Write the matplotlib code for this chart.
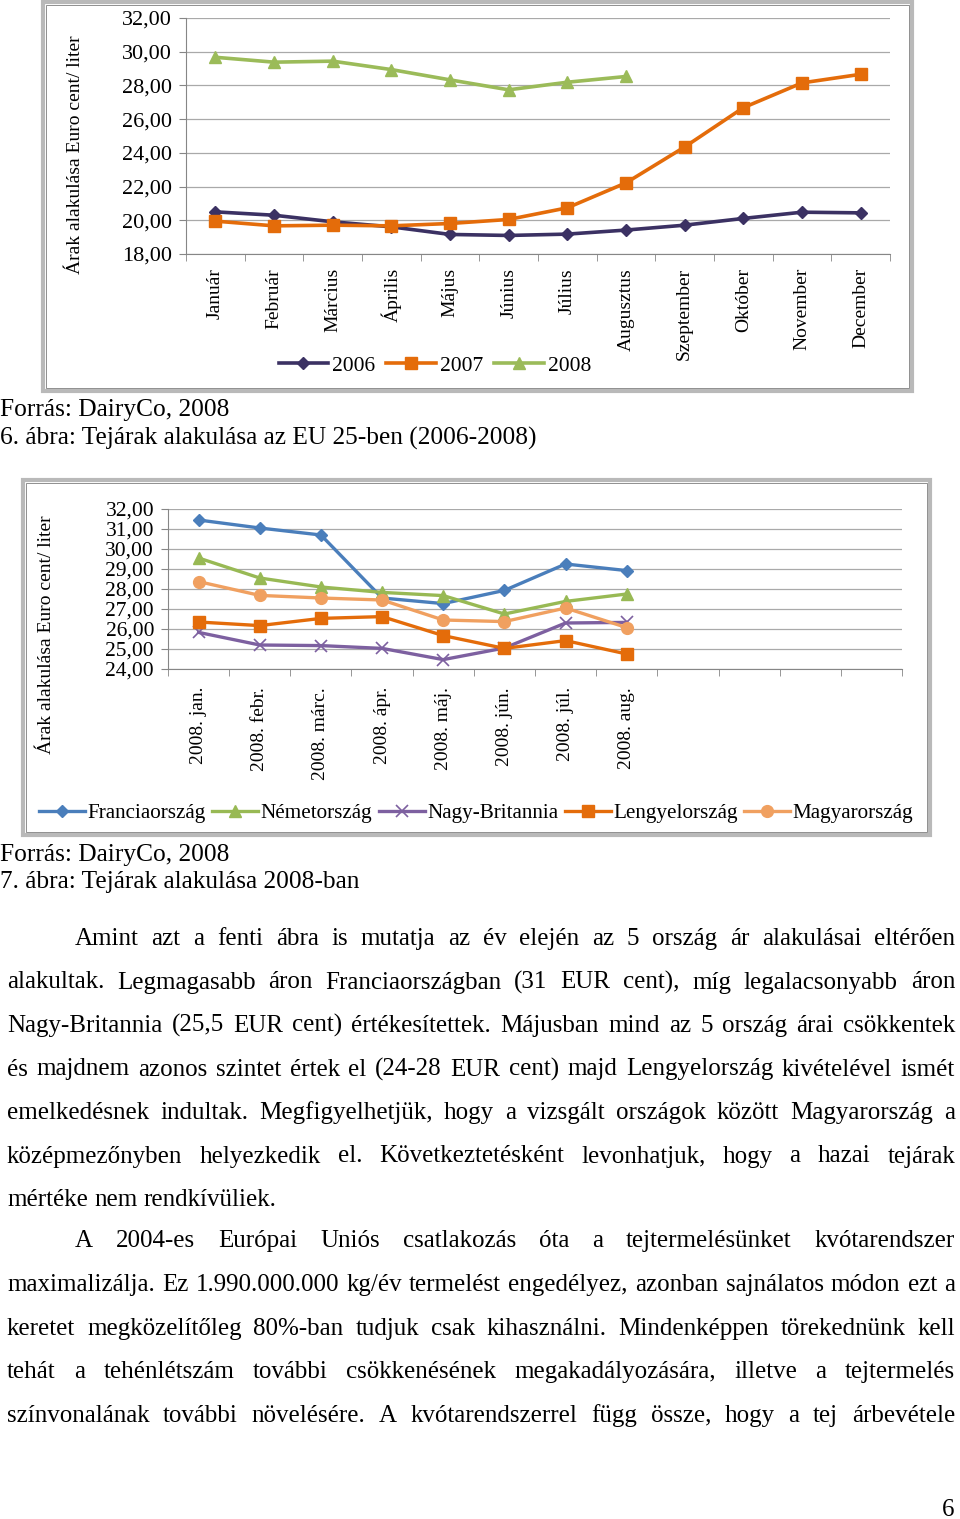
# Tejárak oldal: két Excel-szerű diagram + sorkizárt szöveg
import numpy as np
import matplotlib
matplotlib.use("Agg")
import matplotlib.pyplot as plt
from matplotlib.patches import Rectangle
from matplotlib.ticker import FuncFormatter

plt.rcParams['font.family'] = ['Liberation Serif', 'DejaVu Serif']

W, H = 960, 1519

# --- 6. ábra adatai ---
months_hu = ["Január", "Február", "Március", "Április", "Május", "Június",
             "Július", "Augusztus", "Szeptember", "Október", "November", "December"]
prices_2006 = [20.50, 20.30, 19.91, 19.61, 19.16, 19.10, 19.18, 19.42, 19.71, 20.11, 20.48, 20.44]
prices_2007 = [19.95, 19.67, 19.71, 19.67, 19.81, 20.05, 20.74, 22.22, 24.35, 26.68, 28.15, 28.66]
prices_2008 = [29.67, 29.38, 29.44, 28.94, 28.33, 27.74, 28.19, 28.53]

# --- 7. ábra adatai ---
months_2008 = ["2008. jan.", "2008. febr.", "2008. márc.", "2008. ápr.",
               "2008. máj.", "2008. jún.", "2008. júl.", "2008. aug."]
francia = [31.45, 31.05, 30.70, 27.55, 27.27, 27.93, 29.25, 28.92]
nemet = [29.55, 28.55, 28.10, 27.83, 27.67, 26.75, 27.38, 27.75]
brit = [25.83, 25.20, 25.17, 25.03, 24.47, 25.05, 26.30, 26.33]
lengyel = [26.35, 26.17, 26.53, 26.62, 25.67, 25.03, 25.42, 24.75]
magyar = [28.37, 27.68, 27.55, 27.45, 26.45, 26.37, 27.05, 26.07]

ylabel = "Árak alakulása Euro cent/ liter"

para1 = [
    "Amint azt a fenti ábra is mutatja az év elején az 5 ország ár alakulásai eltérően",
    "alakultak. Legmagasabb áron Franciaországban (31 EUR cent), míg legalacsonyabb áron",
    "Nagy-Britannia (25,5 EUR cent) értékesítettek. Májusban mind az 5 ország árai csökkentek",
    "és majdnem azonos szintet értek el (24-28 EUR cent) majd Lengyelország kivételével ismét",
    "emelkedésnek indultak. Megfigyelhetjük, hogy a vizsgált országok között Magyarország a",
    "középmezőnyben helyezkedik el. Következtetésként levonhatjuk, hogy a hazai tejárak",
    "mértéke nem rendkívüliek.",
]
para2 = [
    "A 2004-es Európai Uniós csatlakozás óta a tejtermelésünket kvótarendszer",
    "maximalizálja. Ez 1.990.000.000 kg/év termelést engedélyez, azonban sajnálatos módon ezt a",
    "keretet megközelítőleg 80%-ban tudjuk csak kihasználni. Mindenképpen törekednünk kell",
    "tehát a tehénlétszám további csökkenésének megakadályozására, illetve a tejtermelés",
    "színvonalának további növelésére. A kvótarendszerrel függ össze, hogy a tej árbevétele",
]

fig = plt.figure(figsize=(W / 100, H / 100), dpi=100)
fig.patch.set_facecolor("white")


def fx(x):
    return x / W


def fy(y):
    return 1 - y / H


def px_axes(left, top, right, bottom):
    return fig.add_axes([fx(left), fy(bottom), (right - left) / W, (bottom - top) / H])


def frame(left, top, right, bottom):
    fig.patches.append(Rectangle((fx(left), fy(bottom)), (right - left) / W, (bottom - top) / H,
                                 transform=fig.transFigure, fill=False,
                                 edgecolor="#b9b9b9", linewidth=3.0))
    fig.patches.append(Rectangle((fx(left + 3), fy(bottom - 3)), (right - left - 6) / W,
                                 (bottom - top - 6) / H, transform=fig.transFigure,
                                 fill=False, edgecolor="#8f8f8f", linewidth=0.7))


def style_axes(ax, ymin, ymax, step, labels, ncat, tick_fs, lab_fs, pad):
    ax.set_xlim(-0.5, ncat - 0.5)
    ax.set_ylim(ymin, ymax)
    ax.set_yticks(np.arange(ymin, ymax + 0.01, step))
    ax.yaxis.set_major_formatter(FuncFormatter(lambda v, p: f"{v:.2f}".replace(".", ",")))
    ax.grid(axis='y', color='#a9a9a9', linewidth=0.9)
    ax.set_axisbelow(True)
    for s in ['top', 'right']:
        ax.spines[s].set_visible(False)
    for s in ['left', 'bottom']:
        ax.spines[s].set_color('#868686')
    ax.set_xticks(range(len(labels)))
    ax.set_xticklabels(labels, rotation=90, va='top', ha='center', fontsize=lab_fs)
    ax.tick_params(axis='x', length=0, pad=pad)
    ax.set_xticks(np.arange(-0.5, ncat), minor=True)
    ax.tick_params(axis='x', which='minor', length=5, color='#868686')
    ax.tick_params(axis='y', length=5, color='#868686', pad=5, labelsize=tick_fs)


# ---------------- 6. ábra ----------------
frame(43, 2, 912, 391)
ax1 = px_axes(186, 18, 890, 254)
style_axes(ax1, 18, 32, 2, months_hu, 12, 16, 14, 10)
ax1.plot(range(12), prices_2006, color="#3b3163", lw=2.6, marker='D', ms=6.5, label="2006")
ax1.plot(range(12), prices_2007, color="#e46c0a", lw=2.6, marker='s', ms=8, label="2007")
ax1.plot(range(8), prices_2008, color="#9bbb59", lw=2.6, marker='^', ms=9, label="2008")
fig.text(fx(75), fy(155), ylabel, rotation=90, ha='center', va='center', fontsize=14)
ax1.legend(loc='center', bbox_to_anchor=(fx(435), fy(366)), bbox_transform=fig.transFigure,
           ncol=3, frameon=False, fontsize=15.5, handlelength=2.3, columnspacing=0.5,
           handletextpad=0.2, borderpad=0)

fig.text(0, fy(416), "Forrás: DairyCo, 2008", fontsize=18.3, va='baseline')
fig.text(0, fy(445), "6. ábra: Tejárak alakulása az EU 25-ben (2006-2008)", fontsize=18.3, va='baseline')

# ---------------- 7. ábra ----------------
frame(23, 480, 930, 835)
ax2 = px_axes(168, 509, 902, 669)
style_axes(ax2, 24, 32, 1, months_2008, 12, 15.5, 14, 13)
x8 = range(8)
ax2.plot(x8, francia, color="#4a7ebb", lw=2.4, marker='D', ms=6.5, label="Franciaország")
ax2.plot(x8, nemet, color="#98b954", lw=2.4, marker='^', ms=8.5, label="Németország")
ax2.plot(x8, brit, color="#7d60a0", lw=2.4, marker='x', ms=8, mew=1.2, label="Nagy-Britannia")
ax2.plot(x8, lengyel, color="#e46c0a", lw=2.4, marker='s', ms=8, label="Lengyelország")
ax2.plot(x8, magyar, color="#f0a060", lw=2.4, marker='o', ms=8.5, label="Magyarország")
fig.text(fx(47), fy(635), ylabel, rotation=90, ha='center', va='center', fontsize=14)
ax2.legend(loc='center', bbox_to_anchor=(fx(476), fy(813)), bbox_transform=fig.transFigure,
           ncol=5, frameon=False, fontsize=15.2, handlelength=2.2, columnspacing=0.3,
           handletextpad=0.1, borderpad=0)

fig.text(0, fy(861), "Forrás: DairyCo, 2008", fontsize=18.3, va='baseline')
fig.text(0, fy(888), "7. ábra: Tejárak alakulása 2008-ban", fontsize=18.3, va='baseline')

# ---------------- sorkizárt szöveg ----------------
BODY = 18
renderer = fig.canvas.get_renderer()
LEFT, RIGHT, INDENT = 7, 955, 75


def draw_line(text, y_base, x_start, x_end, justify=True):
    words = text.split()
    arts = [fig.text(0, fy(y_base), w, fontsize=BODY, va='baseline', ha='left') for w in words]
    widths = [a.get_window_extent(renderer).width for a in arts]
    sp = fig.text(0, 0, "a a", fontsize=BODY)
    sa = fig.text(0, 0, "aa", fontsize=BODY)
    space = sp.get_window_extent(renderer).width - sa.get_window_extent(renderer).width
    sp.remove()
    sa.remove()
    if justify and len(words) > 1:
        gap = (x_end - x_start - sum(widths)) / (len(words) - 1)
    else:
        gap = space
    x = x_start
    for a, w in zip(arts, widths):
        a.set_x(fx(x))
        x += w + gap


for i, line in enumerate(para1):
    start = INDENT if i == 0 else LEFT
    draw_line(line, 945 + i * 43.5, start, RIGHT, justify=(i < len(para1) - 1))

for i, line in enumerate(para2):
    start = INDENT if i == 0 else LEFT
    draw_line(line, 1247 + i * 43.8, start, RIGHT, justify=True)

fig.text(fx(948), fy(1516), "6", fontsize=18, ha='center', va='baseline')

fig.savefig("out.png", dpi=100, facecolor="white")
